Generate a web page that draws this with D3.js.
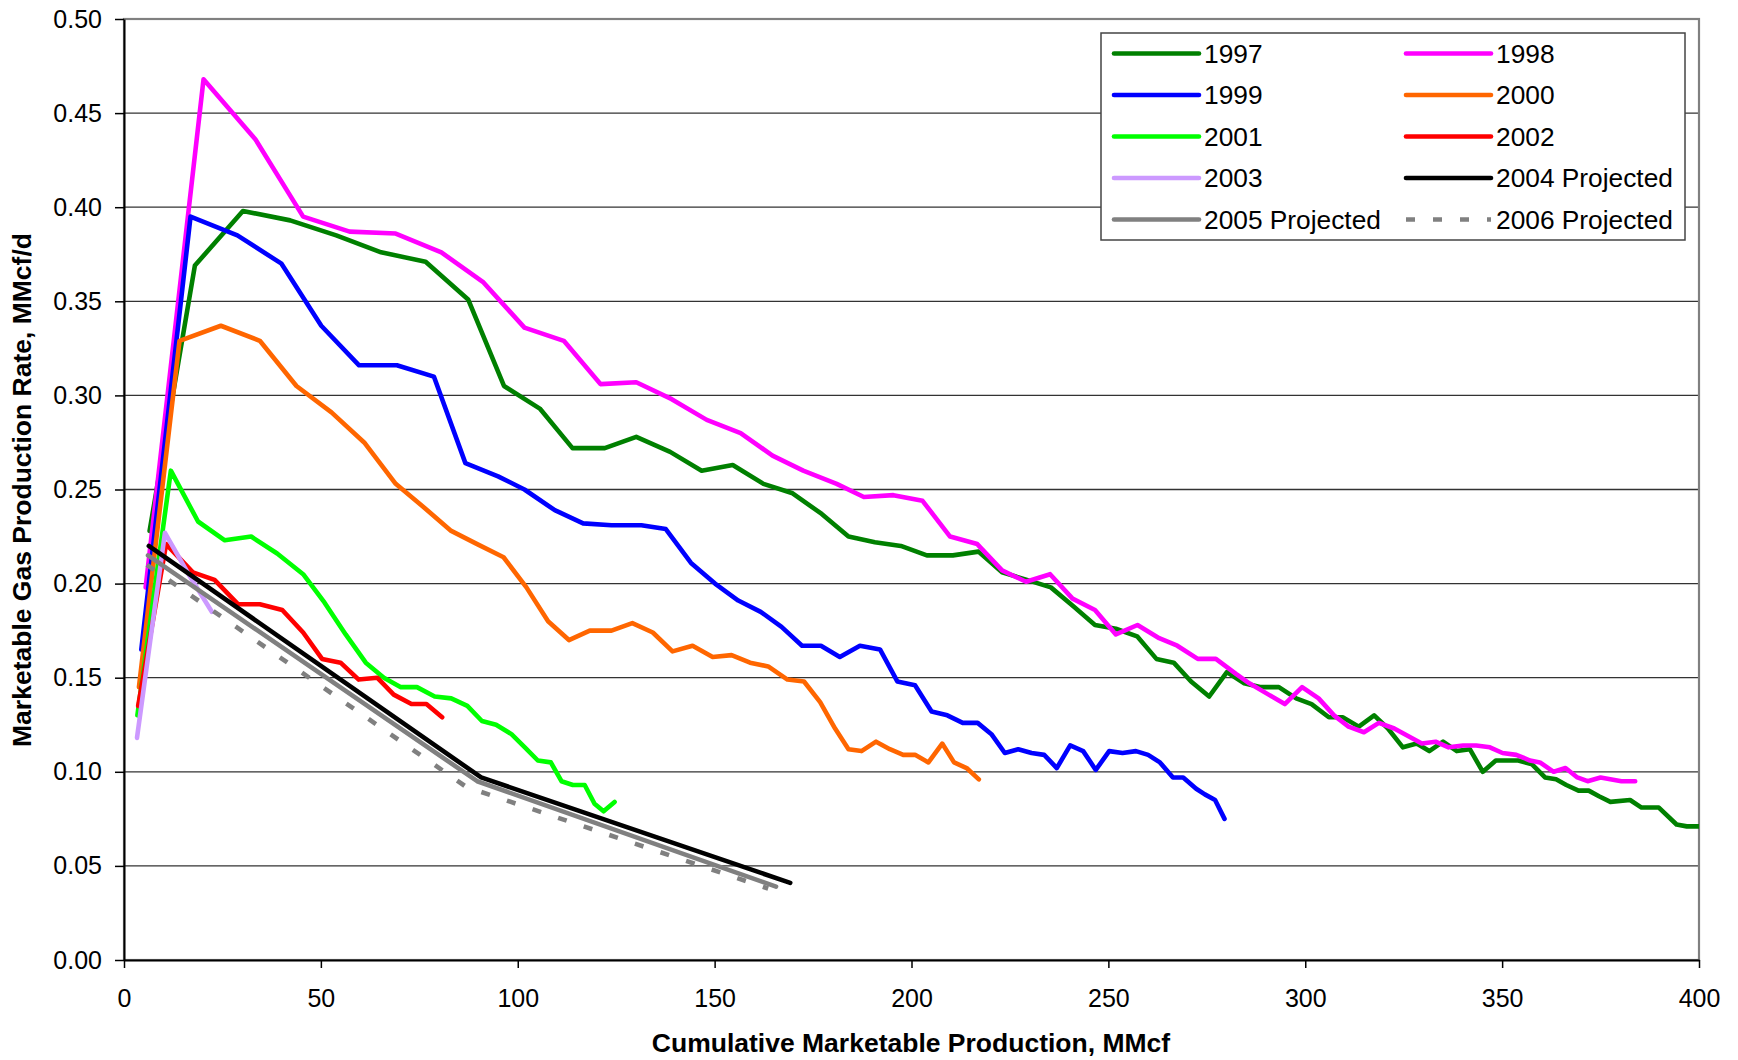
<!DOCTYPE html>
<html><head><meta charset="utf-8">
<script src="https://cdn.jsdelivr.net/npm/d3@7"></script>
<style>body{margin:0;background:#fff} text{font-family:"Liberation Sans",Arial,sans-serif;fill:#000}</style>
</head><body><svg id="c" width="1738" height="1060"></svg>
<script>
// ---- data: [cumulative production MMcf, rate MMcf/d] ----
const s1997 = [[6.5,0.228],[18.0,0.369],[30.2,0.398],[42.2,0.393],[53.9,0.385],[65.3,0.376],[76.6,0.371],[87.4,0.351],[96.5,0.305],[105.6,0.293],[113.9,0.272],[122.1,0.272],[130.1,0.278],[138.7,0.270],[146.7,0.260],[154.6,0.263],[162.4,0.253],[169.8,0.248],[177.2,0.237],[184.0,0.225],[190.7,0.222],[197.3,0.220],[203.9,0.215],[210.5,0.215],[217.0,0.217],[223.0,0.206],[229.3,0.202],[235.4,0.198],[241.1,0.188],[246.6,0.178],[251.9,0.176],[257.3,0.172],[262.2,0.160],[266.6,0.158],[271.0,0.148],[275.6,0.140],[280.1,0.153],[284.5,0.147],[288.5,0.145],[293.3,0.145],[297.7,0.139],[301.6,0.136],[306.0,0.129],[309.5,0.129],[313.6,0.124],[317.5,0.130],[321.0,0.123],[324.8,0.113],[328.3,0.115],[331.5,0.111],[335.0,0.116],[338.5,0.111],[341.8,0.112],[345.1,0.100],[348.4,0.106],[354.1,0.106],[357.6,0.104],[360.9,0.097],[363.7,0.096],[366.3,0.093],[369.4,0.090],[372.0,0.090],[374.6,0.087],[377.5,0.084],[382.5,0.085],[385.4,0.081],[389.8,0.081],[394.3,0.072],[396.9,0.071],[400,0.071]];
const s1998 = [[5.5,0.198],[20.2,0.468],[33.4,0.436],[45.5,0.395],[57.3,0.387],[69.0,0.386],[80.6,0.376],[91.3,0.360],[101.7,0.336],[111.7,0.329],[121.0,0.306],[130.1,0.307],[139.1,0.298],[148.0,0.287],[156.6,0.280],[164.7,0.268],[172.5,0.260],[181.0,0.253],[187.9,0.246],[195.4,0.247],[202.8,0.244],[209.8,0.225],[216.7,0.221],[223.0,0.207],[229.1,0.201],[235.2,0.205],[240.9,0.192],[246.6,0.186],[251.9,0.173],[257.4,0.178],[262.9,0.171],[267.5,0.167],[272.7,0.160],[277.3,0.160],[282.4,0.152],[285.8,0.147],[290.7,0.141],[294.8,0.136],[299.2,0.145],[303.4,0.139],[307.3,0.130],[311.0,0.124],[314.9,0.121],[318.7,0.126],[322.6,0.123],[326.1,0.119],[329.6,0.115],[333.1,0.116],[336.4,0.113],[340.1,0.114],[343.4,0.114],[346.9,0.113],[350.1,0.110],[353.6,0.109],[357.1,0.106],[359.6,0.105],[363.1,0.100],[366.1,0.102],[369.1,0.097],[371.7,0.095],[375.0,0.097],[380.3,0.095],[383.8,0.095]];
const s1999 = [[4.4,0.165],[16.9,0.395],[28.8,0.385],[40.0,0.370],[50.1,0.337],[59.7,0.316],[69.3,0.316],[78.7,0.310],[86.7,0.264],[95.0,0.257],[101.7,0.250],[109.4,0.239],[116.6,0.232],[123.8,0.231],[131.4,0.231],[137.6,0.229],[144.0,0.211],[150.1,0.200],[156.0,0.191],[161.7,0.185],[167.0,0.177],[172.2,0.167],[177.0,0.167],[181.8,0.161],[186.9,0.167],[192.0,0.165],[196.4,0.148],[200.9,0.146],[205.1,0.132],[209.1,0.130],[213.0,0.126],[216.8,0.126],[220.3,0.120],[223.7,0.110],[227.1,0.112],[230.5,0.110],[233.7,0.109],[236.9,0.102],[240.3,0.114],[243.6,0.111],[246.8,0.101],[250.2,0.111],[253.6,0.110],[257.0,0.111],[260.1,0.109],[263.1,0.105],[266.4,0.097],[269.0,0.097],[272.3,0.091],[274.5,0.088],[277.1,0.085],[279.5,0.075]];
const s2000 = [[3.8,0.145],[14.1,0.329],[24.6,0.337],[34.5,0.329],[43.8,0.305],[52.7,0.291],[61.0,0.275],[69.0,0.253],[75.9,0.241],[83.1,0.228],[89.7,0.221],[96.4,0.214],[102.2,0.198],[107.7,0.180],[113.0,0.170],[118.3,0.175],[123.8,0.175],[129.1,0.179],[134.3,0.174],[139.3,0.164],[144.4,0.167],[149.5,0.161],[154.3,0.162],[159.0,0.158],[163.6,0.156],[168.5,0.149],[172.7,0.148],[176.8,0.137],[180.6,0.123],[184.0,0.112],[187.3,0.111],[191.0,0.116],[194.5,0.112],[197.9,0.109],[200.9,0.109],[204.3,0.105],[207.8,0.115],[210.8,0.105],[214.0,0.102],[217.1,0.096]];
const s2001 = [[3.4,0.130],[11.9,0.260],[18.8,0.233],[25.6,0.223],[32.3,0.225],[38.9,0.216],[45.5,0.205],[50.9,0.190],[56.3,0.173],[61.4,0.158],[66.0,0.150],[70.2,0.145],[74.4,0.145],[78.9,0.140],[83.1,0.139],[87.2,0.135],[90.9,0.127],[94.5,0.125],[98.4,0.120],[101.8,0.113],[105.1,0.106],[108.4,0.105],[111.1,0.095],[114.0,0.093],[117.0,0.093],[119.5,0.083],[121.8,0.079],[124.6,0.084]];
const s2002 = [[3.6,0.135],[10.7,0.221],[17.5,0.206],[23.0,0.202],[29.0,0.189],[34.5,0.189],[40.2,0.186],[45.5,0.174],[50.3,0.160],[55.0,0.158],[59.6,0.149],[64.3,0.150],[68.5,0.141],[73.0,0.136],[76.8,0.136],[80.8,0.129]];
const s2003 = [[3.3,0.118],[10.4,0.227],[16.4,0.205],[22.3,0.185]];
const s2004 = [[6.3,0.220],[90.7,0.097],[169.2,0.041]];
const s2005 = [[6.1,0.215],[89.7,0.095],[165.6,0.039]];
const s2006 = [[5.8,0.210],[86.9,0.092],[163.6,0.038]];

const seriesNames = ["1997","1998","1999","2000","2001","2002","2003","2004 Projected","2005 Projected","2006 Projected"];
const seriesData = [s1997,s1998,s1999,s2000,s2001,s2002,s2003,s2004,s2005,s2006];
const seriesColors = ["#008000","#FF00FF","#0000FF","#FF6600","#00FF00","#FF0000","#CC99FF","#000000","#808080","#808080"];
const seriesDashed = [false,false,false,false,false,false,false,false,false,true];

const xTicks = [0,50,100,150,200,250,300,350,400];
const yTicks = [0,0.05,0.10,0.15,0.20,0.25,0.30,0.35,0.40,0.45,0.50];
const xTitle = "Cumulative Marketable Production, MMcf";
const yTitle = "Marketable Gas Production Rate, MMcf/d";

// ---- drawing ----
const W = 1738, H = 1060;
const P = {l:124, r:1699, t:19, b:960};
const x = d3.scaleLinear().domain([0,400]).range([P.l,P.r]);
const y = d3.scaleLinear().domain([0,0.5]).range([P.b,P.t]);
const svg = d3.select("#c");
svg.append("rect").attr("width",W).attr("height",H).attr("fill","#fff");

// gridlines
svg.append("g").selectAll("line").data(yTicks.filter(v=>v>0 && v<0.5)).join("line")
  .attr("x1",P.l).attr("x2",P.r).attr("y1",d=>y(d)).attr("y2",d=>y(d))
  .attr("stroke","#333").attr("stroke-width",1.3);

// plot border
svg.append("rect").attr("x",P.l).attr("y",P.t).attr("width",P.r-P.l).attr("height",P.b-P.t)
  .attr("fill","none").attr("stroke","#808080").attr("stroke-width",2.2);

svg.append("clipPath").attr("id","clip").append("rect")
  .attr("x",P.l).attr("y",P.t).attr("width",P.r-P.l).attr("height",P.b-P.t);

const line = d3.line().x(d=>x(d[0])).y(d=>y(d[1]));
const g = svg.append("g").attr("clip-path","url(#clip)");
seriesData.forEach((data,i)=>{
  g.append("path").attr("d",line(data)).attr("fill","none")
    .attr("stroke",seriesColors[i]).attr("stroke-width",4.6)
    .attr("stroke-linejoin","round")
    .attr("stroke-linecap",seriesDashed[i]?"butt":"round")
    .attr("stroke-dasharray",seriesDashed[i]?"9,18":null);
});

// axes
const ya = svg.append("g").attr("transform",`translate(${P.l},0)`)
  .call(d3.axisLeft(y).tickValues(yTicks).tickFormat(d3.format(".2f")).tickSize(9).tickSizeOuter(0).tickPadding(13));
const xa = svg.append("g").attr("transform",`translate(0,${P.b})`)
  .call(d3.axisBottom(x).tickValues(xTicks).tickFormat(d3.format("d")).tickSize(8).tickSizeOuter(0).tickPadding(21));
[ya,xa].forEach(a=>{
  a.selectAll("text").attr("font-size",25).attr("font-family","Liberation Sans, Arial, sans-serif").attr("fill","#000");
  a.selectAll("line").attr("stroke","#000").attr("stroke-width",1.5);
  a.select(".domain").attr("stroke","#000").attr("stroke-width",2);
});

// titles
svg.append("text").attr("x",911).attr("y",1052).attr("text-anchor","middle")
  .attr("font-size",26.5).attr("font-weight","bold").text(xTitle);
svg.append("text").attr("transform","translate(31,490) rotate(-90)").attr("text-anchor","middle")
  .attr("font-size",26.5).attr("font-weight","bold").text(yTitle);

// legend
const L = {x:1101, y:33, w:584, h:207};
svg.append("rect").attr("x",L.x).attr("y",L.y).attr("width",L.w).attr("height",L.h)
  .attr("fill","#fff").attr("stroke","#444").attr("stroke-width",1.5);
const rowY = [53.5,95,136.5,178,219.5];
const colLine = [[1114,1199],[1406,1491]];
const colText = [1204,1496];
seriesNames.forEach((name,i)=>{
  const r = Math.floor(i/2), c = i%2;
  svg.append("line").attr("x1",colLine[c][0]).attr("x2",colLine[c][1])
    .attr("y1",rowY[r]).attr("y2",rowY[r])
    .attr("stroke",seriesColors[i]).attr("stroke-width",4.6)
    .attr("stroke-linecap",seriesDashed[i]?"butt":"round")
    .attr("stroke-dasharray",seriesDashed[i]?"9,18":null);
  svg.append("text").attr("x",colText[c]).attr("y",rowY[r]+9.3)
    .attr("font-size",26.3).text(name);
});
</script></body></html>
